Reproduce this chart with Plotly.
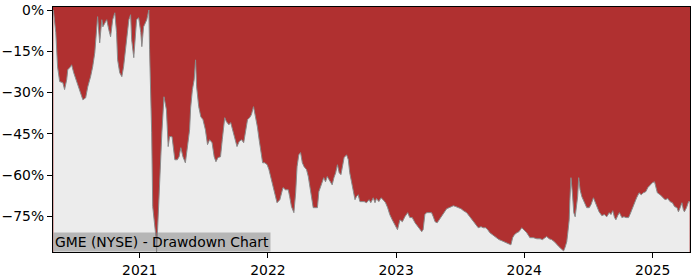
import plotly.graph_objects as go

# ---- data (drawdown in %) ----
dates_2020 = ["2020-04-30","2020-05-07","2020-05-12","2020-05-18","2020-05-27","2020-06-01","2020-06-07","2020-06-10",
              "2020-06-18","2020-06-21","2020-06-27","2020-07-05","2020-07-14","2020-07-23","2020-07-31","2020-08-06",
              "2020-08-14","2020-08-20","2020-08-26","2020-08-31","2020-09-03","2020-09-09","2020-09-15","2020-09-18",
              "2020-09-29","2020-10-05","2020-10-10","2020-10-16","2020-10-22","2020-10-27","2020-10-30","2020-11-05",
              "2020-11-11","2020-11-16","2020-11-25","2020-12-01","2020-12-06","2020-12-09","2020-12-15","2020-12-18",
              "2020-12-23","2020-12-29"]
dd_2020 = [0,-8.2,-20.6,-26.0,-26.4,-28.9,-25.3,-21.7,
           -20.6,-19.9,-22.8,-26.0,-28.9,-32.6,-31.9,-27.9,
           -24.2,-20.6,-15.5,-8.2,-2.4,-11.9,-3.5,-6.1,
           -3.5,-7.2,-9.7,-3.5,-1.0,-8.2,-18.1,-22.8,
           -24.2,-20.6,-10.8,-3.5,-1.7,-10.8,-17.3,-10.8,
           -3.5,-2.8]

dates_2021 = ["2021-01-04","2021-01-07","2021-01-12","2021-01-21","2021-01-27","2021-01-29","2021-02-04","2021-02-07",
              "2021-02-16","2021-02-18","2021-02-24","2021-03-05","2021-03-11","2021-03-18","2021-03-23","2021-03-27",
              "2021-04-03","2021-04-11","2021-04-18","2021-04-23","2021-04-28","2021-05-04","2021-05-11","2021-05-17",
              "2021-05-23","2021-05-26","2021-05-31","2021-06-05","2021-06-09","2021-06-12","2021-06-18","2021-06-24",
              "2021-06-30","2021-07-07","2021-07-13","2021-07-19","2021-07-26","2021-08-01","2021-08-06","2021-08-12",
              "2021-08-19","2021-08-24","2021-08-27","2021-08-31","2021-09-05","2021-09-12","2021-09-17","2021-09-22",
              "2021-09-29","2021-10-05","2021-10-11","2021-10-18","2021-10-24","2021-10-29","2021-11-04","2021-11-10",
              "2021-11-15","2021-11-21","2021-11-27","2021-12-02","2021-12-07","2021-12-12","2021-12-17","2021-12-23",
              "2021-12-30"]
dd_2021 = [-8.2,-13.3,-6.1,-3.5,0,-14.4,-44.6,-71.4,
           -82.3,-87.9,-68.9,-44.6,-31.5,-36.2,-49.6,-46.0,
           -46.0,-54.4,-54.4,-53.3,-50.0,-53.3,-55.5,-49.6,
           -43.5,-35.5,-28.9,-25.3,-18.1,-27.9,-35.1,-38.8,
           -39.8,-43.5,-48.9,-47.1,-48.2,-53.3,-55.1,-53.6,
           -53.3,-47.1,-42.4,-39.1,-40.6,-41.7,-40.9,-43.5,
           -47.1,-49.6,-47.8,-47.1,-48.2,-44.6,-39.8,-39.1,
           -38.0,-35.1,-38.8,-42.4,-47.1,-51.8,-55.5,-55.5,
           -56.2]

dates_2022 = ["2022-01-04","2022-01-13","2022-01-21","2022-01-27","2022-02-04","2022-02-09","2022-02-13","2022-02-20",
              "2022-02-28","2022-03-04","2022-03-09","2022-03-16","2022-03-21","2022-03-25","2022-03-30","2022-04-04",
              "2022-04-09","2022-04-14","2022-04-21","2022-04-26","2022-04-30","2022-05-05","2022-05-10","2022-05-17",
              "2022-05-22","2022-05-26","2022-05-31","2022-06-05","2022-06-09","2022-06-14","2022-06-19","2022-06-24",
              "2022-06-28","2022-07-03","2022-07-08","2022-07-13","2022-07-18","2022-07-23","2022-07-28","2022-08-02",
              "2022-08-06","2022-08-13","2022-08-18","2022-08-22","2022-08-27","2022-09-01","2022-09-06","2022-09-10",
              "2022-09-15","2022-09-20","2022-09-26","2022-10-02","2022-10-09","2022-10-16","2022-10-21","2022-10-28",
              "2022-11-02","2022-11-06","2022-11-13","2022-11-19","2022-11-25","2022-12-02","2022-12-08","2022-12-14",
              "2022-12-21","2022-12-29"]
dd_2022 = [-58.0,-62.4,-66.4,-70.0,-68.9,-66.0,-64.5,-65.3,
           -65.3,-67.8,-71.4,-73.6,-66.4,-56.9,-52.6,-51.8,
           -55.5,-56.9,-58.0,-60.5,-64.2,-67.8,-71.8,-71.8,
           -71.8,-66.0,-64.2,-62.4,-60.9,-62.4,-60.5,-61.6,
           -62.7,-63.5,-60.9,-59.1,-56.2,-59.1,-59.8,-56.9,
           -53.6,-52.6,-54.4,-59.1,-62.4,-65.3,-68.9,-67.8,
           -67.1,-69.6,-69.6,-69.6,-70.0,-68.9,-70.0,-68.2,
           -70.0,-68.5,-69.6,-68.2,-68.9,-70.0,-71.8,-74.3,
           -76.2,-78.0]

dates_2023 = ["2023-01-05","2023-01-12","2023-01-19","2023-01-26","2023-02-03","2023-02-09","2023-02-16","2023-02-24",
              "2023-03-05","2023-03-15","2023-03-19","2023-03-24","2023-03-29","2023-04-05","2023-04-12","2023-04-17",
              "2023-04-22","2023-04-28","2023-05-04","2023-05-11","2023-05-18","2023-05-25","2023-06-01","2023-06-06",
              "2023-06-13","2023-06-20","2023-06-27","2023-07-05","2023-07-12","2023-07-21","2023-07-30","2023-08-09",
              "2023-08-16","2023-08-23","2023-08-31","2023-09-06","2023-09-13","2023-09-19","2023-09-25","2023-10-02",
              "2023-10-10","2023-10-15","2023-10-21","2023-10-29","2023-11-05","2023-11-12","2023-11-19","2023-11-24",
              "2023-11-29","2023-12-04","2023-12-11","2023-12-17","2023-12-25","2023-12-31"]
dd_2023 = [-79.8,-76.2,-76.9,-75.1,-73.6,-75.4,-75.4,-77.3,
           -78.7,-80.5,-79.8,-74.3,-73.6,-73.6,-73.6,-75.1,
           -76.9,-77.3,-76.2,-75.1,-73.6,-72.2,-71.8,-71.4,
           -71.1,-71.4,-71.8,-72.2,-72.9,-73.6,-75.1,-76.9,
           -78.0,-79.1,-78.7,-79.1,-79.1,-79.8,-80.9,-81.6,
           -82.3,-82.7,-83.4,-83.8,-84.2,-84.5,-84.9,-85.3,
           -82.7,-81.6,-80.9,-80.5,-79.1,-79.8]

dates_2024 = ["2024-01-08","2024-01-15","2024-01-17","2024-01-27","2024-02-06","2024-02-15","2024-02-22","2024-02-29",
              "2024-03-05","2024-03-12","2024-03-19","2024-03-27","2024-04-03","2024-04-09","2024-04-15","2024-04-22",
              "2024-04-26","2024-05-01","2024-05-04","2024-05-08","2024-05-10","2024-05-13","2024-05-17","2024-05-21",
              "2024-05-25","2024-05-28","2024-06-01","2024-06-04","2024-06-08","2024-06-13","2024-06-19","2024-06-27",
              "2024-07-04","2024-07-09","2024-07-16","2024-07-21","2024-07-26","2024-08-01","2024-08-09","2024-08-16",
              "2024-08-23","2024-08-30","2024-09-04","2024-09-09","2024-09-14","2024-09-18","2024-09-23","2024-09-28",
              "2024-10-05","2024-10-11","2024-10-17","2024-10-24","2024-10-28","2024-11-04","2024-11-10","2024-11-16",
              "2024-11-23","2024-11-29","2024-12-05","2024-12-12","2024-12-18","2024-12-24","2024-12-31"]
dd_2024 = [-80.9,-82.3,-82.7,-82.7,-83.1,-83.1,-83.4,-82.7,
           -82.3,-83.1,-83.4,-84.2,-85.3,-86.0,-86.7,-87.5,
           -86.3,-84.2,-80.9,-76.2,-68.9,-60.9,-66.4,-73.6,
           -75.1,-72.5,-67.8,-60.9,-65.3,-67.8,-69.6,-71.8,
           -71.8,-70.7,-68.2,-70.0,-71.4,-73.3,-74.7,-74.3,
           -75.1,-73.6,-74.3,-72.9,-75.4,-76.2,-74.7,-73.6,
           -75.4,-75.1,-75.4,-75.4,-74.3,-71.8,-69.6,-68.2,
           -66.4,-67.1,-66.4,-66.0,-64.5,-63.8,-62.7]

dates_2025 = ["2025-01-06","2025-01-10","2025-01-14","2025-01-22","2025-01-29","2025-02-05","2025-02-13","2025-02-19",
              "2025-02-26","2025-03-04","2025-03-11","2025-03-15","2025-03-20","2025-03-25","2025-03-29","2025-04-01",
              "2025-04-07","2025-04-13","2025-04-16"]
dd_2025 = [-62.4,-64.2,-66.4,-67.1,-68.2,-68.9,-68.5,-69.6,
           -70.0,-71.4,-71.8,-73.3,-71.8,-70.0,-72.5,-73.3,
           -71.8,-69.6,-69.6]

y_tick_vals = [0, -15, -30, -45, -60, -75]
y_tick_text = ["0%", "\u221215%", "\u221230%", "\u221245%", "\u221260%", "\u221275%"]
x_tick_vals = ["2021-01-01", "2022-01-01", "2023-01-01", "2024-01-01", "2025-01-01"]
x_tick_text = ["2021", "2022", "2023", "2024", "2025"]

Y_RANGE = [-87.9, 1.1]
X_RANGE = ["2020-04-29", "2025-04-17"]
TITLE = "GME (NYSE) - Drawdown Chart"

dates = dates_2020 + dates_2021 + dates_2022 + dates_2023 + dates_2024 + dates_2025
dd = dd_2020 + dd_2021 + dd_2022 + dd_2023 + dd_2024 + dd_2025

RED = "#b03030"
GREY = "#ececec"
FONT = "DejaVu Sans"

fig = go.Figure()
# floor of the axis, used as the lower edge of the grey fill
fig.add_trace(go.Scatter(x=dates, y=[Y_RANGE[0]] * len(dates), mode="lines",
                         line=dict(width=0, color=GREY), hoverinfo="skip", showlegend=False))
fig.add_trace(go.Scatter(x=dates, y=dd, mode="lines", fill="tonexty", fillcolor=GREY,
                         line=dict(width=1, color="#8a8a8a"), showlegend=False))

fig.update_layout(
    width=700, height=280,
    margin=dict(l=53, r=10, t=7, b=28, autoexpand=False),
    paper_bgcolor="white",
    plot_bgcolor=RED,
    font=dict(family=FONT, size=13.9, color="black"),
    xaxis=dict(range=X_RANGE, tickvals=x_tick_vals, ticktext=x_tick_text, automargin=False,
               showgrid=False, zeroline=False, showline=True, linecolor="black", linewidth=1.2,
               mirror=True, ticks="outside", ticklen=5, tickwidth=1, tickcolor="black"),
    yaxis=dict(range=Y_RANGE, tickvals=y_tick_vals, ticktext=y_tick_text, automargin=False,
               showgrid=False, zeroline=False, showline=True, linecolor="black", linewidth=1.2,
               mirror=True, ticks="outside", ticklen=5, tickwidth=1, tickcolor="black"),
    annotations=[dict(text=TITLE, xref="paper", yref="paper", x=0, y=0,
                      xanchor="left", yanchor="bottom", showarrow=False,
                      font=dict(family=FONT, size=13.9, color="black"),
                      bgcolor="rgba(128,128,128,0.5)", borderpad=1)],
)

fig.write_html("out.html")
